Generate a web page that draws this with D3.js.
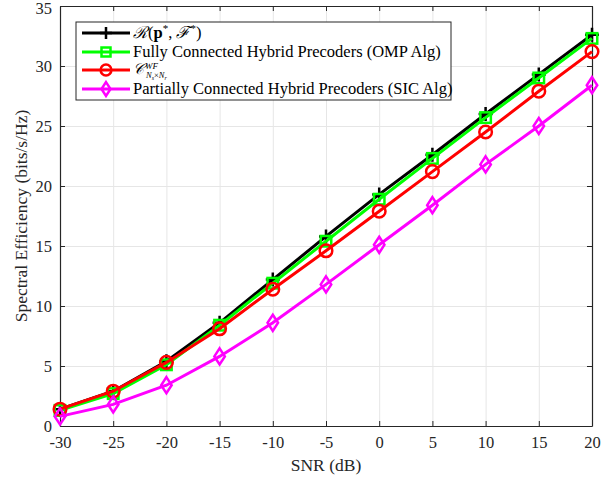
<!DOCTYPE html>
<html>
<head>
<meta charset="utf-8">
<script src="https://cdn.jsdelivr.net/npm/d3@7"></script>
<style>
  body { margin: 0; background: #fff; }
  .grid line { stroke: #e6e6e6; stroke-width: 1; }
  .grid path { stroke: none; }
  .axis path, .axis line { stroke: #262626; }
</style>
</head>
<body>
<svg></svg>
<script>
(function () {
  var width = 616, height = 478;
  var serif = "Liberation Serif";
  var margin = {top: 6, right: 24, bottom: 52, left: 60};
  var plot_width = width - margin.left - margin.right;
  var plot_height = height - margin.top - margin.bottom;

  var snr = [-30, -25, -20, -15, -10, -5, 0, 5, 10, 15, 20];
  var optimal = [1.4, 2.9, 5.4, 8.6, 12.2, 15.8, 19.3, 22.6, 26.0, 29.3, 32.6];
  var fullyOmp = [1.3, 2.7, 5.1, 8.4, 11.9, 15.4, 18.9, 22.3, 25.7, 29.0, 32.3];
  var waterFill = [1.4, 2.9, 5.3, 8.1, 11.4, 14.6, 17.9, 21.2, 24.5, 27.9, 31.2];
  var partialSic = [0.8, 1.8, 3.4, 5.8, 8.6, 11.8, 15.1, 18.4, 21.8, 25.0, 28.4];
  var xTicks = [-30, -25, -20, -15, -10, -5, 0, 5, 10, 15, 20];
  var yTicks = [0, 5, 10, 15, 20, 25, 30, 35];

  var series = [
    {values: optimal, color: "#000000", marker: "plus"},
    {values: fullyOmp, color: "#00ff00", marker: "square"},
    {values: waterFill, color: "#ff0000", marker: "circle"},
    {values: partialSic, color: "#ff00ff", marker: "diamond"}
  ];

  var svg = d3.select("svg").attr("width", width).attr("height", height)
    .style("font-family", serif);
  var g = svg.append("g").attr("transform", "translate(" + margin.left + "," + margin.top + ")");

  var x = d3.scaleLinear().domain([-30, 20]).range([0, plot_width]);
  var y = d3.scaleLinear().domain([0, 35]).range([plot_height, 0]);
  var plain = function(d) { return String(d); };   // hyphen minus like matlab

  // grid
  g.append("g").attr("class", "grid")
    .attr("transform", "translate(0," + plot_height + ")")
    .call(d3.axisBottom(x).tickValues(xTicks).tickSize(-plot_height).tickFormat(""));
  g.append("g").attr("class", "grid")
    .call(d3.axisLeft(y).tickValues(yTicks).tickSize(-plot_width).tickFormat(""));

  // axes, ticks inward
  g.append("g").attr("class", "axis")
    .attr("transform", "translate(0," + plot_height + ")")
    .call(d3.axisBottom(x).tickValues(xTicks).tickFormat(plain).tickSizeInner(-5).tickSizeOuter(0).tickPadding(10));
  g.append("g").attr("class", "axis axis--y")
    .call(d3.axisLeft(y).tickValues(yTicks).tickFormat(plain).tickSizeInner(-5).tickSizeOuter(0).tickPadding(8));
  g.append("g").attr("class", "axis")
    .call(d3.axisTop(x).tickValues(xTicks).tickSizeInner(-5).tickSizeOuter(0).tickFormat(""));
  g.append("g").attr("class", "axis")
    .attr("transform", "translate(" + plot_width + ",0)")
    .call(d3.axisRight(y).tickValues(yTicks).tickSizeInner(-5).tickSizeOuter(0).tickFormat(""));
  g.selectAll(".axis").attr("font-family", serif).attr("font-size", 16.5);
  g.selectAll(".axis text").attr("fill", "#262626");
  g.selectAll(".axis path").attr("stroke-width", 1.2);
  // keep the top label inside the page
  g.selectAll(".axis--y .tick text").filter(function(d) { return d === 35; }).attr("dy", "0.45em");

  function drawMarker(sel, type, color, size) {
    if (type === "plus") {
      sel.append("path").attr("d", "M" + (-size) + ",0H" + size + "M0," + (-size) + "V" + size)
        .attr("stroke", color).attr("stroke-width", 2.5).attr("fill", "none");
    } else if (type === "square") {
      var s = size * 0.75;
      sel.append("rect").attr("x", -s).attr("y", -s).attr("width", 2 * s).attr("height", 2 * s)
        .attr("stroke", color).attr("stroke-width", 2.5).attr("fill", "none");
    } else if (type === "circle") {
      sel.append("circle").attr("r", size * 0.9)
        .attr("stroke", color).attr("stroke-width", 2.5).attr("fill", "none");
    } else {
      sel.append("path").attr("d", "M0," + (-size * 1.15) + "L" + (size * 0.75) + ",0L0," + (size * 1.15) + "L" + (-size * 0.75) + ",0Z")
        .attr("stroke", color).attr("stroke-width", 2.5).attr("fill", "none");
    }
  }

  var line = d3.line().x(function(d, i) { return x(snr[i]); }).y(function(d) { return y(d); });

  series.forEach(function(s) {
    g.append("path").datum(s.values)
      .attr("d", line)
      .attr("fill", "none")
      .attr("stroke", s.color)
      .attr("stroke-width", 3);
    s.values.forEach(function(v, i) {
      var m = g.append("g").attr("transform", "translate(" + x(snr[i]) + "," + y(v) + ")");
      drawMarker(m, s.marker, s.color, 7);
    });
  });

  // axis titles
  svg.append("text")
    .attr("x", margin.left + plot_width / 2).attr("y", height - 7)
    .attr("text-anchor", "middle").attr("font-size", 17.5).attr("fill", "#262626")
    .text("SNR (dB)");
  svg.append("text")
    .attr("transform", "translate(27," + (margin.top + plot_height / 2) + ") rotate(-90)")
    .attr("text-anchor", "middle").attr("font-size", 17.5).attr("fill", "#262626")
    .text("Spectral Efficiency (bits/s/Hz)");

  // legend
  var lg = svg.append("g").attr("transform", "translate(76,22)");
  lg.append("rect").attr("width", 375).attr("height", 78)
    .attr("fill", "#fff").attr("stroke", "#262626").attr("stroke-width", 1);
  var rowY = [11, 30, 48, 67];
  series.forEach(function(s, i) {
    var row = lg.append("g").attr("transform", "translate(0," + rowY[i] + ")");
    row.append("line").attr("x1", 6).attr("x2", 54).attr("stroke", s.color).attr("stroke-width", 3);
    var m = row.append("g").attr("transform", "translate(30,0)");
    drawMarker(m, s.marker, s.color, 6);
  });

  var fs = 16.5;
  var t0 = lg.append("text").attr("x", 57).attr("y", rowY[0] + 5).attr("font-size", fs).attr("fill", "#000");
  t0.append("tspan").attr("font-style", "italic").text("\u211B");
  t0.append("tspan").attr("dx", 1).text("(");
  t0.append("tspan").attr("font-weight", "bold").text("p");
  t0.append("tspan").attr("font-size", 11).attr("dy", -6).text("*");
  t0.append("tspan").attr("dy", 6).text(", ");
  t0.append("tspan").attr("font-style", "italic").text("\u2131");
  t0.append("tspan").attr("font-size", 11).attr("dy", -6).text("*");
  t0.append("tspan").attr("dy", 6).text(")");

  lg.append("text").attr("x", 57).attr("y", rowY[1] + 5).attr("font-size", fs).attr("fill", "#000")
    .text("Fully Connected Hybrid Precoders (OMP Alg)");

  var t2 = lg.append("text").attr("x", 57).attr("y", rowY[2] + 4).attr("font-size", 15).attr("fill", "#000");
  t2.append("tspan").attr("font-style", "italic").text("\uD835\uDC9E");
  t2.append("tspan").attr("font-size", 9).attr("font-style", "italic").attr("dx", 1).attr("dy", -5).text("WF");
  var t2b = lg.append("text").attr("x", 70).attr("y", rowY[2] + 8).attr("font-size", 8.5).attr("font-style", "italic").attr("fill", "#000");
  t2b.append("tspan").text("N");
  t2b.append("tspan").attr("font-size", 6).attr("dy", 1.5).text("s");
  t2b.append("tspan").attr("dy", -1.5).attr("font-style", "normal").text("\u00D7");
  t2b.append("tspan").text("N");
  t2b.append("tspan").attr("font-size", 6).attr("dy", 1.5).text("r");

  lg.append("text").attr("x", 57).attr("y", rowY[3] + 5).attr("font-size", fs).attr("fill", "#000")
    .text("Partially Connected Hybrid Precoders (SIC Alg)");
})();
</script>
</body>
</html>
